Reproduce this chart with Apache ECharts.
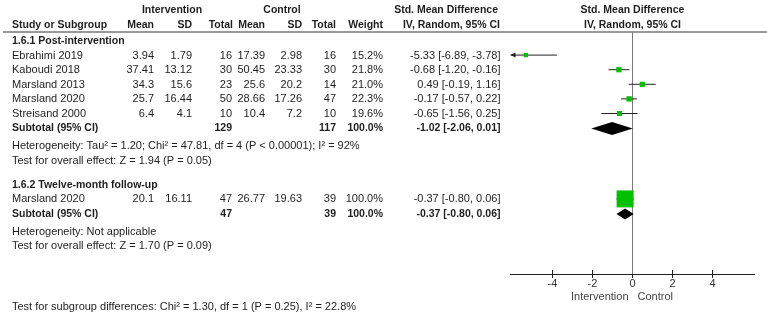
<!DOCTYPE html>
<html>
<head>
<meta charset="utf-8">
<script src="https://cdn.jsdelivr.net/npm/echarts@6/dist/echarts.min.js"></script>
<style>
  html, body { margin: 0; padding: 0; background: #fff; }
  #chart { width: 767px; height: 313px; }
</style>
</head>
<body>
<div id="chart"></div>
<script>
// study rows (both subgroups, in order)
const studyNames = ['Ebrahimi 2019', 'Kaboudi 2018', 'Marsland 2013', 'Marsland 2020', 'Streisand 2000', 'Marsland 2020']
const studyGroup = [0, 0, 0, 0, 0, 1]
const intMean = [3.94, 37.41, 34.3, 25.7, 6.4, 20.1]
const intSD = [1.79, 13.12, 15.6, 16.44, 4.1, 16.11]
const intN = [16, 30, 23, 50, 10, 47]
const ctlMean = [17.39, 50.45, 25.6, 28.66, 10.4, 26.77]
const ctlSD = [2.98, 23.33, 20.2, 17.26, 7.2, 19.63]
const ctlN = [16, 30, 14, 47, 10, 39]
const weight = [15.2, 21.8, 21.0, 22.3, 19.6, 100.0]
const smd = [-5.33, -0.68, 0.49, -0.17, -0.65, -0.37]
const ciLow = [-6.89, -1.20, -0.19, -0.57, -1.56, -0.80]
const ciHigh = [-3.78, -0.16, 1.16, 0.22, 0.25, 0.06]

// subgroups
const groupTitles = ['1.6.1 Post-intervention', '1.6.2 Twelve-month follow-up']
const subIntN = [129, 47]
const subCtlN = [117, 39]
const subSmd = [-1.02, -0.37]
const subLow = [-2.06, -0.80]
const subHigh = [0.01, 0.06]
const heterogeneity = [
  'Heterogeneity: Tau\u00b2 = 1.20; Chi\u00b2 = 47.81, df = 4 (P < 0.00001); I\u00b2 = 92%',
  'Heterogeneity: Not applicable'
]
const overallEffect = [
  'Test for overall effect: Z = 1.94 (P = 0.05)',
  'Test for overall effect: Z = 1.70 (P = 0.09)'
]
const subgroupTest = 'Test for subgroup differences: Chi\u00b2 = 1.30, df = 1 (P = 0.25), I\u00b2 = 22.8%'
const xTicks = [-4, -2, 0, 2, 4]

// layout
const FONT = '11px Arial, "Liberation Sans", sans-serif'
const BOLD = 'bold 10.5px Arial, "Liberation Sans", sans-serif'
const TXT = '#1e1e1e'
const ROW_H = 14.6
const TITLE_Y = 41
const LINE_Y = 32
const AXIS_Y = 274
const ZERO_X = 632.5
const PX_PER_UNIT = 20
const X_MAX = 6.1
const cols = { name: 12, im: 154, isd: 192, in: 232, cm: 265, csd: 302, cn: 336, w: 383, ci: 500.5 }

function fmtCI(e, l, h) {
  return e.toFixed(2) + ' [' + l.toFixed(2) + ', ' + h.toFixed(2) + ']'
}

// walk rows and give each one a position in row units
const studyRows = []
const subRows = []
const textRows = []
let p = 0
groupTitles.forEach((title, g) => {
  textRows.push({ p, cells: [[cols.name, title, 'left', true]] })
  p += 1
  studyGroup.forEach((sg, i) => {
    if (sg !== g) return
    studyRows.push({ i, p })
    textRows.push({ p, cells: [
      [cols.name, studyNames[i], 'left'],
      [cols.im, String(intMean[i]), 'right'],
      [cols.isd, String(intSD[i]), 'right'],
      [cols.in, String(intN[i]), 'right'],
      [cols.cm, String(ctlMean[i]), 'right'],
      [cols.csd, String(ctlSD[i]), 'right'],
      [cols.cn, String(ctlN[i]), 'right'],
      [cols.w, weight[i].toFixed(1) + '%', 'right'],
      [cols.ci, fmtCI(smd[i], ciLow[i], ciHigh[i]), 'right']
    ] })
    p += 1
  })
  subRows.push({ g, p })
  textRows.push({ p, cells: [
    [cols.name, 'Subtotal (95% CI)', 'left', true],
    [cols.in, String(subIntN[g]), 'right', true],
    [cols.cn, String(subCtlN[g]), 'right', true],
    [cols.w, '100.0%', 'right', true],
    [cols.ci, fmtCI(subSmd[g], subLow[g], subHigh[g]), 'right', true]
  ] })
  p += 1.2
  textRows.push({ p, cells: [[cols.name, heterogeneity[g], 'left']] })
  p += 1
  textRows.push({ p, cells: [[cols.name, overallEffect[g], 'left']] })
  p += 1.65
})

const rowPx = v => TITLE_Y + v * ROW_H

const graphics = []
function txt(x, y, text, align, bold, color) {
  graphics.push({
    type: 'text', x, y, silent: true,
    style: { text, font: bold ? BOLD : FONT, fill: color || TXT, align, verticalAlign: 'middle' }
  })
}
// headers
txt(172, 10, 'Intervention', 'center', true)
txt(282, 10, 'Control', 'center', true)
txt(498, 10, 'Std. Mean Difference', 'right', true)
txt(ZERO_X, 10, 'Std. Mean Difference', 'center', true)
txt(cols.name, 25, 'Study or Subgroup', 'left', true)
txt(cols.im, 25, 'Mean', 'right', true)
txt(cols.isd, 25, 'SD', 'right', true)
txt(cols.in + 1, 25, 'Total', 'right', true)
txt(cols.cm, 25, 'Mean', 'right', true)
txt(cols.csd, 25, 'SD', 'right', true)
txt(cols.cn, 25, 'Total', 'right', true)
txt(cols.w, 25, 'Weight', 'right', true)
txt(500, 25, 'IV, Random, 95% CI', 'right', true)
txt(ZERO_X, 25, 'IV, Random, 95% CI', 'center', true)
graphics.push({ type: 'line', silent: true, shape: { x1: 3, y1: LINE_Y, x2: 767, y2: LINE_Y }, style: { stroke: '#333', lineWidth: 1 } })
textRows.forEach(r => {
  r.cells.forEach(c => txt(c[0], rowPx(r.p), c[1], c[2], c[3]))
})
txt(ZERO_X - 4, 297, 'Intervention', 'right', false, '#444')
txt(ZERO_X + 5, 297, 'Control', 'left', false, '#444')
txt(cols.name, 307, subgroupTest, 'left')

const chart = echarts.init(document.getElementById('chart'))
const yMin = (LINE_Y - TITLE_Y) / ROW_H
const yMax = (AXIS_Y - TITLE_Y) / ROW_H

const xAxisBase = {
  type: 'value', min: -X_MAX, max: X_MAX, position: 'bottom',
  splitLine: { show: false }
}

const option = {
  animation: false,
  grid: {
    left: ZERO_X - X_MAX * PX_PER_UNIT,
    width: 2 * X_MAX * PX_PER_UNIT,
    top: LINE_Y,
    bottom: 313 - AXIS_Y
  },
  xAxis: [
    Object.assign({}, xAxisBase, {
      axisLine: { onZero: false, lineStyle: { color: '#222', width: 1 } },
      axisTick: { show: true, length: 4, customValues: xTicks, lineStyle: { color: '#222' } },
      axisLabel: { customValues: xTicks, margin: 4, color: '#333', fontSize: 11, fontFamily: 'Arial' }
    }),
    Object.assign({}, xAxisBase, {
      axisLine: { show: false, onZero: false },
      axisTick: { show: true, inside: true, length: 4, customValues: xTicks, lineStyle: { color: '#222' } },
      axisLabel: { show: false }
    })
  ],
  yAxis: { type: 'value', inverse: true, min: yMin, max: yMax, show: false },
  graphic: graphics,
  series: [
    {
      // line of no effect
      type: 'custom',
      silent: true,
      data: [[0]],
      renderItem(params, api) {
        const a = api.coord([api.value(0), yMin])
        const b = api.coord([api.value(0), yMax])
        return { type: 'line', shape: { x1: a[0], y1: a[1], x2: b[0], y2: b[1] }, style: { stroke: '#7a7a7a', lineWidth: 1 } }
      }
    },
    {
      // confidence interval whiskers
      type: 'custom',
      silent: true,
      data: studyRows.map(r => [ciLow[r.i], ciHigh[r.i], r.p]),
      renderItem(params, api) {
        const lo = api.value(0), hi = api.value(1), y = api.value(2)
        const a = api.coord([Math.max(lo, -X_MAX), y])
        const b = api.coord([Math.min(hi, X_MAX), y])
        const children = [{ type: 'line', shape: { x1: a[0], y1: a[1] - 0.5, x2: b[0], y2: b[1] - 0.5 }, style: { stroke: '#222', lineWidth: 1 } }]
        if (lo < -X_MAX) {
          children.push({ type: 'polygon', shape: { points: [[a[0], a[1] - 0.5], [a[0] + 5, a[1] - 3], [a[0] + 5, a[1] + 2]] }, style: { fill: '#222' } })
        }
        return { type: 'group', children }
      }
    },
    {
      // study squares, size by weight
      type: 'custom',
      silent: true,
      data: studyRows.map(r => [smd[r.i], r.p, weight[r.i]]),
      renderItem(params, api) {
        const c = api.coord([api.value(0), api.value(1)])
        const s = 2 + 15 * api.value(2) / 100
        return { type: 'rect', shape: { x: c[0] - s / 2, y: c[1] - s / 2 - 0.5, width: s, height: s }, style: { fill: '#00c000' } }
      }
    },
    {
      // subtotal diamonds
      type: 'custom',
      silent: true,
      data: subRows.map(r => [subSmd[r.g], subLow[r.g], subHigh[r.g], r.p]),
      renderItem(params, api) {
        const y = api.value(3)
        const e = api.coord([api.value(0), y])
        const l = api.coord([api.value(1), y])
        const h = api.coord([api.value(2), y])
        const half = params.dataIndex === 0 ? 6.5 : 5.5
        return {
          type: 'polygon',
          shape: { points: [[l[0], l[1]], [e[0], e[1] - half], [h[0], h[1]], [e[0], e[1] + half]] },
          style: { fill: '#000' }
        }
      }
    }
  ]
}
chart.setOption(option)
</script>
</body>
</html>
